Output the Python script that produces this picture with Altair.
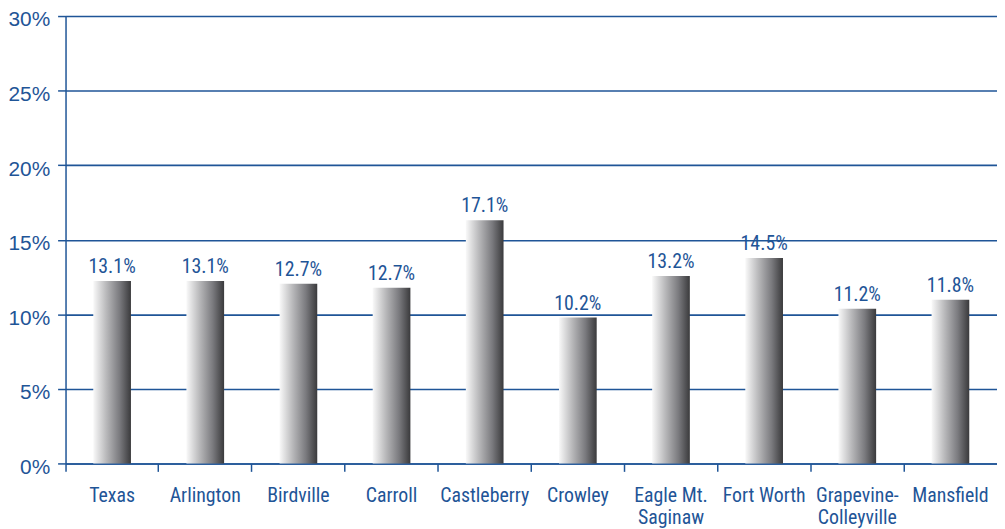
import altair as alt
import pandas as pd

categories = ["Texas", "Arlington", "Birdville", "Carroll", "Castleberry", "Crowley",
              "Eagle Mt.|Saginaw", "Fort Worth", "Grapevine-|Colleyville", "Mansfield"]
bar_values = [12.24, 12.24, 12.04, 11.78, 16.3, 9.78, 12.57, 13.77, 10.38, 10.98]
value_labels = ["13.1%", "13.1%", "12.7%", "12.7%", "17.1%", "10.2%", "13.2%", "14.5%", "11.2%", "11.8%"]
y_ticks = [0, 5, 10, 15, 20, 25, 30]

BLUE = "#1f5597"
NARROW = "Liberation Sans Narrow, Arial Narrow, Roboto Condensed, DejaVu Sans Condensed, sans-serif"
REG = "Liberation Sans, Arial, Helvetica, sans-serif"

df = pd.DataFrame({"cat": categories, "val": bar_values, "lab": value_labels})

x = alt.X("cat:N", sort=categories, title=None,
          scale=alt.Scale(paddingInner=0, paddingOuter=0),
          axis=alt.Axis(labelAngle=0, bandPosition=0,
                        labelExpr="split(datum.label, '|')",
                        labelFont=NARROW, labelFontSize=20, labelColor=BLUE,
                        labelLineHeight=23, labelPadding=14,
                        tickSize=8, tickColor=BLUE, tickWidth=1.5,
                        domainColor=BLUE, domainWidth=1.5, grid=False))

y = alt.Y("val:Q", title=None,
          scale=alt.Scale(domain=[0, 30], nice=False),
          axis=alt.Axis(values=y_ticks, labelExpr="datum.value + '%'",
                        labelFont=REG, labelFontSize=21, labelColor=BLUE,
                        labelPadding=8, labelOffset=4, tickSize=8, tickColor=BLUE, tickWidth=1.5,
                        domainColor=BLUE, domainWidth=1.5,
                        grid=True, gridColor=BLUE, gridWidth=1.6))

grad = alt.Gradient(gradient="linear", x1=0, x2=1, y1=0, y2=0,
                    stops=[alt.GradientStop(color="#f9f9f9", offset=0),
                           alt.GradientStop(color="#b8b8ba", offset=0.35),
                           alt.GradientStop(color="#7a7a7e", offset=0.7),
                           alt.GradientStop(color="#3a3a3c", offset=1)])

bars = alt.Chart(df).mark_bar(size=38, color=grad).encode(x=x, y=y)

labels = alt.Chart(df).mark_text(font=NARROW, fontSize=20, color=BLUE, dy=-14,
                                 baseline="middle").encode(
    x=alt.X("cat:N", sort=categories), y="val:Q", text="lab:N")

chart = alt.layer(bars, labels).properties(
    width=939, height=451,
    autosize=alt.AutoSizeParams(type="none"),
    padding={"left": 58, "top": 6, "right": 0, "bottom": 64},
).configure_view(stroke=None)

chart.save("out.html", embed_options={"renderer": "svg", "actions": False})
